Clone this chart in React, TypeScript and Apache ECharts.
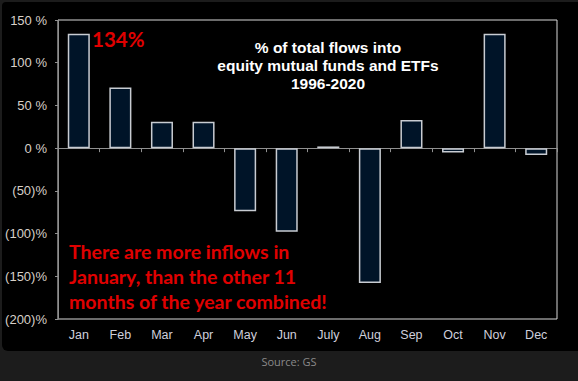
import React, { useEffect, useRef } from "react";
import * as echarts from "echarts";

const months = ["Jan", "Feb", "Mar", "Apr", "May", "Jun", "July", "Aug", "Sep", "Oct", "Nov", "Dec"];
const flowPct = [134, 71, 31, 31, -74, -98, 2, -158, 33, -5, 134, -8];
const titleLines = ["% of total flows into", "equity mutual funds and ETFs", "1996-2020"];
const noteLines = ["There are more inflows in", "January, than the other 11", "months of the year combined!"];
const janLabel = "134%";
const sourceText = "Source: GS";

export default function App() {
  const ref = useRef<HTMLDivElement>(null);
  useEffect(() => {
    if (!ref.current) return;
    const chart = echarts.init(ref.current, null, { renderer: "svg" });
    const axisFont = "Liberation Sans, Arial, sans-serif";
    chart.setOption({
      animation: false,
      backgroundColor: "#1c1c1c",
      grid: {
        left: 58,
        top: 20,
        right: 21,
        bottom: 62,
        show: true,
        borderColor: "#d8d8d8",
        borderWidth: 1,
        backgroundColor: "transparent",
      },
      xAxis: [
        {
          type: "category",
          data: months,
          position: "bottom",
          axisLine: { show: false, onZero: false },
          axisTick: { show: false },
          axisLabel: { color: "#cfcfdc", fontFamily: axisFont, fontSize: 12.5, margin: 9 },
        },
        {
          type: "category",
          data: months,
          position: "bottom",
          axisLine: { show: true, onZero: true, lineStyle: { color: "#909090", width: 1 } },
          axisTick: { show: true, length: 4, lineStyle: { color: "#909090" } },
          axisLabel: { show: false },
        },
      ],
      yAxis: {
        type: "value",
        min: -200,
        max: 150,
        interval: 50,
        axisLine: { show: true, lineStyle: { color: "#909090" } },
        axisTick: { show: true, length: 3, inside: false, lineStyle: { color: "#909090" } },
        splitLine: { show: false },
        axisLabel: {
          color: "#d8d0c8",
          fontFamily: axisFont,
          fontSize: 13,
          margin: 11,
          formatter: (v: number) => (v >= 0 ? `${v} %` : `(${-v})%`),
        },
      },
      series: [
        {
          type: "bar",
          xAxisIndex: 0,
          data: flowPct,
          barWidth: "53%",
          itemStyle: { color: "#001428", borderColor: "#c8ccd2", borderWidth: 1.5 },
        },
      ],
      graphic: [
        {
          type: "rect",
          z: -10,
          shape: { x: 2, y: 2, width: 576, height: 349, r: [4, 0, 0, 6] },
          style: { fill: "#000000" },
        },
        {
          type: "text",
          x: 328,
          y: 38,
          style: {
            text: titleLines.join("\n"),
            fill: "#ffffff",
            font: "bold 15.5px Liberation Sans, Arial, sans-serif",
            textAlign: "center",
            lineHeight: 18,
          },
        },
        {
          type: "text",
          x: 92,
          y: 28,
          style: {
            text: janLabel,
            fill: "#e00000",
            font: "bold 20.5px Lato, sans-serif",
          },
        },
        {
          type: "text",
          x: 69,
          y: 239,
          style: {
            text: noteLines.join("\n"),
            fill: "#e00000",
            font: "bold 19.5px Lato, sans-serif",
            lineHeight: 25,
          },
        },
        {
          type: "text",
          x: 289,
          y: 356,
          style: {
            text: sourceText,
            fill: "#8a8a8a",
            font: "11px Open Sans, sans-serif",
            textAlign: "center",
          },
        },
      ],
    });
    return () => chart.dispose();
  }, []);
  return (
    <div
      ref={ref}
      style={{ position: "absolute", left: 0, top: 0, width: 578, height: 381 }}
    />
  );
}
